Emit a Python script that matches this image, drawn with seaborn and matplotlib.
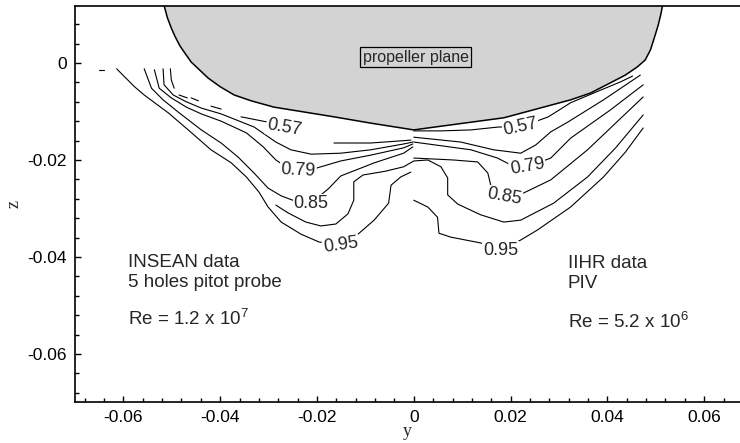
import pandas as pd
import seaborn as sns
import matplotlib.pyplot as plt
from matplotlib.ticker import MultipleLocator, FuncFormatter

sns.set_theme(style="ticks")
plt.rcParams['font.family'] = ['Liberation Sans', 'DejaVu Sans']
plt.rcParams['axes.unicode_minus'] = False
plt.rcParams['mathtext.default'] = 'regular'

# Hull section (propeller plane)
hull_y = [-0.0519, -0.0509, -0.0501, -0.0493, -0.0483, -0.0472, -0.0460, -0.0443, -0.0425, -0.0400,
          -0.0371, -0.0336, -0.0289, -0.0165, -0.0089, 0.0000,
          0.0029, 0.0186, 0.0324, 0.0365, 0.0406, 0.0437, 0.0462, 0.0478, 0.0489, 0.0497, 0.0505,
          0.0511, 0.0516]
hull_z = [0.0130, 0.0093, 0.0072, 0.0054, 0.0035, 0.0019, 0.0002, -0.0014, -0.0031, -0.0049,
          -0.0066, -0.0078, -0.0091, -0.0111, -0.0124, -0.0138,
          -0.0134, -0.0113, -0.0076, -0.0062, -0.0041, -0.0025, -0.0008, 0.0006, 0.0027, 0.0052, 0.0078,
          0.0103, 0.0130]

# INSEAN (left half) contour lines
ins_dot_y = [-0.0650, -0.0641]
ins_dot_z = [-0.0014, -0.0014]
ins_057_pieces = [
    ([-0.0503, -0.0501, -0.0495], [-0.0012, -0.0035, -0.0052]),
    ([-0.0485, -0.0468], [-0.0066, -0.0072]),
    ([-0.0460, -0.0445], [-0.0072, -0.0078]),
    ([-0.0419, -0.0398], [-0.0089, -0.0095]),
    ([-0.0357, -0.0301], [-0.0111, -0.0122]),
    ([-0.0165, -0.0089, -0.0033, -0.0006], [-0.0165, -0.0165, -0.0161, -0.0159]),
]
ins_068_y = [-0.0518, -0.0516, -0.0497, -0.0470, -0.0439, -0.0398, -0.0330, -0.0285, -0.0254, -0.0212,
             -0.0151, -0.0089, -0.0021, -0.0002]
ins_068_z = [-0.0012, -0.0045, -0.0066, -0.0080, -0.0093, -0.0105, -0.0132, -0.0163, -0.0179, -0.0188,
             -0.0186, -0.0179, -0.0167, -0.0163]
ins_079_y = [-0.0536, -0.0526, -0.0501, -0.0470, -0.0439, -0.0398, -0.0346, -0.0311, -0.0285, -0.0264,
             -0.0239, -0.0202, -0.0151, -0.0089, -0.0021, -0.0002]
ins_079_z = [-0.0014, -0.0052, -0.0072, -0.0091, -0.0105, -0.0120, -0.0144, -0.0173, -0.0200, -0.0214,
             -0.0221, -0.0217, -0.0202, -0.0190, -0.0175, -0.0167]
ins_085_y = [-0.0557, -0.0542, -0.0518, -0.0487, -0.0439, -0.0398, -0.0363, -0.0330, -0.0301, -0.0274,
             -0.0250, -0.0212, -0.0175, -0.0151, -0.0082, -0.0021, -0.0002]
ins_085_z = [-0.0012, -0.0052, -0.0076, -0.0101, -0.0138, -0.0165, -0.0194, -0.0227, -0.0258, -0.0274,
             -0.0283, -0.0289, -0.0258, -0.0233, -0.0206, -0.0186, -0.0173]
ins_095_y = [-0.0614, -0.0577, -0.0557, -0.0507, -0.0466, -0.0419, -0.0377, -0.0346, -0.0320, -0.0301,
             -0.0274, -0.0233, -0.0196, -0.0151, -0.0113, -0.0082, -0.0052, -0.0047, -0.0027, -0.0006]
ins_095_z = [-0.0012, -0.0049, -0.0066, -0.0103, -0.0138, -0.0179, -0.0206, -0.0235, -0.0266, -0.0297,
             -0.0328, -0.0353, -0.0369, -0.0375, -0.0351, -0.0324, -0.0289, -0.0252, -0.0235, -0.0225]

# the 0.90 line that bumps up under the hub
bump_y = [-0.0285, -0.0260, -0.0223, -0.0192, -0.0161, -0.0136, -0.0124, -0.0124, -0.0105, -0.0058,
          -0.0021, 0.0000, 0.0029, 0.0056, 0.0070, 0.0070, 0.0091, 0.0138, 0.0186, 0.0221,
          0.0289, 0.0359, 0.0417, 0.0474]
bump_z = [-0.0293, -0.0309, -0.0328, -0.0336, -0.0332, -0.0311, -0.0283, -0.0245, -0.0231, -0.0223,
          -0.0214, -0.0202, -0.0200, -0.0214, -0.0237, -0.0272, -0.0291, -0.0313, -0.0328, -0.0324,
          -0.0289, -0.0235, -0.0175, -0.0107]

# IIHR (right half) contour lines
iihr_057_y = [0.0000, 0.0056, 0.0118, 0.0175, 0.0221, 0.0278, 0.0324, 0.0386, 0.0427, 0.0452]
iihr_057_z = [-0.0140, -0.0140, -0.0138, -0.0132, -0.0132, -0.0111, -0.0082, -0.0056, -0.0039, -0.0027]
iihr_068_y = [0.0000, 0.0097, 0.0165, 0.0221, 0.0252, 0.0283, 0.0318, 0.0392, 0.0468]
iihr_068_z = [-0.0153, -0.0163, -0.0179, -0.0186, -0.0169, -0.0142, -0.0122, -0.0076, -0.0025]
iihr_079_y = [0.0000, 0.0118, 0.0173, 0.0200, 0.0235, 0.0283, 0.0324, 0.0406, 0.0474]
iihr_079_z = [-0.0163, -0.0179, -0.0196, -0.0210, -0.0214, -0.0196, -0.0155, -0.0097, -0.0045]
iihr_085_y = [0.0000, 0.0082, 0.0132, 0.0153, 0.0159, 0.0186, 0.0227, 0.0283, 0.0359, 0.0474]
iihr_085_z = [-0.0196, -0.0200, -0.0204, -0.0227, -0.0252, -0.0276, -0.0268, -0.0241, -0.0179, -0.0070]
iihr_095_y = [0.0000, 0.0029, 0.0049, 0.0052, 0.0076, 0.0138, 0.0179, 0.0221, 0.0256, 0.0324,
              0.0392, 0.0437, 0.0474]
iihr_095_z = [-0.0283, -0.0297, -0.0318, -0.0351, -0.0359, -0.0371, -0.0386, -0.0365, -0.0344, -0.0297,
              -0.0235, -0.0184, -0.0134]

# contour labels: text, y, z, rotation
label_text = ['0.57', '0.79', '0.85', '0.95', '0.57', '0.79', '0.85', '0.95']
label_y = [-0.0268, -0.0239, -0.0212, -0.0151, 0.0221, 0.0235, 0.0186, 0.0179]
label_z = [-0.0134, -0.0221, -0.0289, -0.0375, -0.0132, -0.0214, -0.0276, -0.0386]
label_rot = [-10, -3, 0, 8, 12, 10, -10, 0]

# build a long table, one unit per polyline
segs = [(ins_dot_y, ins_dot_z)] + ins_057_pieces + [
    (ins_068_y, ins_068_z), (ins_079_y, ins_079_z), (ins_085_y, ins_085_z), (ins_095_y, ins_095_z),
    (bump_y, bump_z),
    (iihr_057_y, iihr_057_z), (iihr_068_y, iihr_068_z), (iihr_079_y, iihr_079_z),
    (iihr_085_y, iihr_085_z), (iihr_095_y, iihr_095_z)]
df = pd.concat([pd.DataFrame({'y': ys, 'z': zs, 'seg': i}) for i, (ys, zs) in enumerate(segs)],
               ignore_index=True)

fig = plt.figure(figsize=(7.4, 4.43), dpi=100)
ax = fig.add_axes([75 / 740, 1 - 402 / 443, 665 / 740, 396 / 443])

ax.fill(hull_y, hull_z, facecolor='#d3d3d3', edgecolor='black', lw=1.1, zorder=1)
sns.lineplot(data=df, x='y', y='z', units='seg', estimator=None, sort=False,
             color='black', lw=0.8, ax=ax, legend=False, zorder=2)

for t, y, z, r in zip(label_text, label_y, label_z, label_rot):
    ax.text(y, z, t, fontsize=13, ha='center', va='center', rotation=r, zorder=3,
            bbox=dict(boxstyle='square,pad=0.05', fc='white', ec='none'))

ax.text(0.0004, 0.0012, 'propeller plane', fontsize=11.5, ha='center', va='center', zorder=3,
        bbox=dict(boxstyle='square,pad=0.15', fc='#d3d3d3', ec='black', lw=0.9))

ax.text(-0.0590, -0.0421, 'INSEAN data', fontsize=13.5, va='baseline')
ax.text(-0.0590, -0.0462, '5 holes pitot probe', fontsize=13.5, va='baseline')
ax.text(-0.0590, -0.0540, 'Re = 1.2 x 10$^7$', fontsize=13.5, va='baseline')
ax.text(0.0318, -0.0423, 'IIHR data', fontsize=13.5, va='baseline')
ax.text(0.0318, -0.0464, 'PIV', fontsize=13.5, va='baseline')
ax.text(0.0318, -0.0546, 'Re = 5.2 x 10$^6$', fontsize=13.5, va='baseline')

ax.set_xlim(-0.07, 0.0674)
ax.set_ylim(-0.0699, 0.01175)
for a in (ax.xaxis, ax.yaxis):
    a.set_major_locator(MultipleLocator(0.02))
    a.set_minor_locator(MultipleLocator(0.004))
    a.set_major_formatter(FuncFormatter(lambda v, _: '0' if abs(v) < 1e-9 else f'{v:g}'))
ax.tick_params(which='both', direction='in', width=1, colors='black', labelsize=12.5)
ax.tick_params(which='major', length=4.5, pad=6)
ax.tick_params(which='minor', length=3)
ax.spines['right'].set_visible(False)
for s in ('left', 'bottom', 'top'):
    ax.spines[s].set_linewidth(1.2)
    ax.spines[s].set_color('black')

ax.set_xlabel('y', fontsize=13, fontfamily='Liberation Serif', labelpad=-2)
ax.set_ylabel('z', fontsize=13, fontfamily='Liberation Serif', labelpad=3)

fig.savefig('out.png', dpi=100)
